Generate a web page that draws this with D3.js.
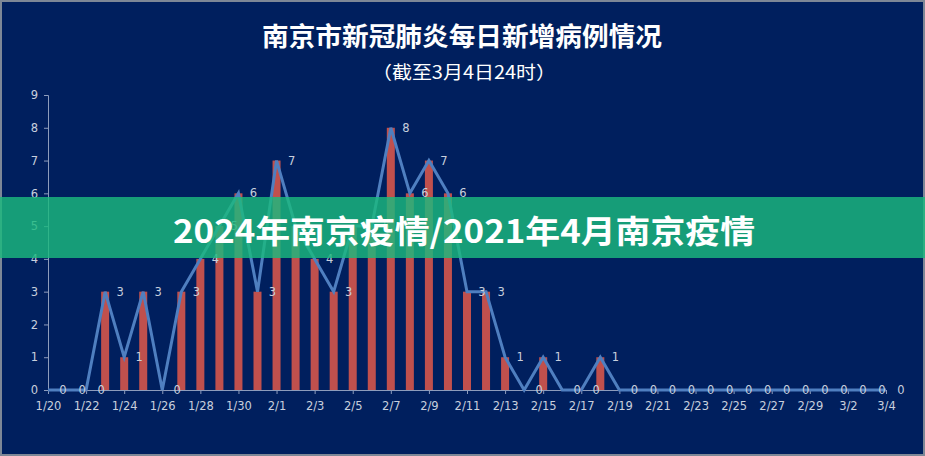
<!DOCTYPE html>
<html>
<head>
<meta charset="utf-8">
<script src="https://cdn.jsdelivr.net/npm/d3@7"></script>
<style>
  html, body { margin: 0; padding: 0; background: #7d8796; }
  svg { display: block; }
</style>
</head>
<body>
<svg id="chart" width="925" height="456"></svg>
<script>
const width = 925, height = 456

const dates = [
  "1/20","1/21","1/22","1/23","1/24","1/25","1/26","1/27","1/28","1/29","1/30","1/31",
  "2/1","2/2","2/3","2/4","2/5","2/6","2/7","2/8","2/9","2/10","2/11","2/12","2/13","2/14",
  "2/15","2/16","2/17","2/18","2/19","2/20","2/21","2/22","2/23","2/24","2/25","2/26","2/27",
  "2/28","2/29","3/1","3/2","3/3","3/4"
]
const cases = [
  0,0,0,3,1,3,0,3,4,5,6,3,
  7,5,4,3,5,5,8,6,7,6,3,3,1,0,
  1,0,0,1,0,0,0,0,0,0,0,0,0,
  0,0,0,0,0,0
]
const yTicks = [0,1,2,3,4,5,6,7,8,9]
const title = "南京市新冠肺炎每日新增病例情况"
const subtitle = "（截至3月4日24时）"
const banner = "2024年南京疫情/2021年4月南京疫情"

const svg = d3.select('#chart')

// fondo con borde gris
svg.append('rect')
    .attr('x', 2).attr('y', 2)
    .attr('width', width - 4).attr('height', height - 4)
    .attr('fill', '#001f5e')

const x = d3.scalePoint()
    .domain(dates)
    .range([48, 886])

const y = d3.scaleLinear()
    .domain([0, 9])
    .range([390, 95])

const axisColor = '#8d9cbc'
const textColor = '#c8cfdd'
const labelFont = '11.5px "DejaVu Sans", Verdana, sans-serif'

// eje y
const yAxis = svg.append('g')
    .attr('transform', 'translate(48,0)')
    .call(d3.axisLeft(y).tickValues(yTicks).tickSize(4).tickPadding(6).tickFormat(d3.format('d')))
yAxis.select('.domain').attr('stroke', axisColor)
yAxis.selectAll('.tick line').attr('stroke', axisColor)
yAxis.selectAll('.tick text')
    .attr('fill', textColor)
    .style('font', labelFont)

// eje x, una etiqueta cada dos dias
const xAxis = svg.append('g')
    .attr('transform', 'translate(0,390)')
    .call(d3.axisBottom(x).tickValues(dates.filter((d, i) => i % 2 === 0)).tickSize(4).tickSizeOuter(0).tickPadding(8))
xAxis.select('.domain').attr('stroke', axisColor)
xAxis.selectAll('.tick line').attr('stroke', axisColor)
xAxis.selectAll('.tick text')
    .attr('fill', textColor)
    .style('font', labelFont)

// barras
svg.append('g')
    .selectAll('rect')
    .data(dates)
    .join('rect')
    .attr('x', d => x(d) - 4)
    .attr('width', 8)
    .attr('y', (d, i) => y(cases[i]))
    .attr('height', (d, i) => y(0) - y(cases[i]))
    .attr('fill', '#c0504d')

// linea
const line = d3.line()
    .x(d => x(d))
    .y((d, i) => y(cases[i]))

svg.append('path')
    .datum(dates)
    .attr('d', line)
    .attr('fill', 'none')
    .attr('stroke', '#4f7fc0')
    .attr('stroke-width', 3)

// etiquetas de valor
svg.append('g')
    .selectAll('text')
    .data(dates)
    .join('text')
    .attr('x', d => x(d) + 15)
    .attr('y', (d, i) => y(cases[i]))
    .attr('dy', '0.35em')
    .attr('text-anchor', 'middle')
    .attr('fill', textColor)
    .style('font', labelFont)
    .text((d, i) => cases[i])

// titulos
svg.append('text')
    .attr('x', 462).attr('y', 46)
    .attr('text-anchor', 'middle')
    .attr('fill', '#ffffff')
    .attr('textLength', 400)
    .attr('lengthAdjust', 'spacingAndGlyphs')
    .style('font', 'bold 26px "Noto Sans CJK SC", sans-serif')
    .text(title)

svg.append('text')
    .attr('x', 464).attr('y', 79)
    .attr('text-anchor', 'middle')
    .attr('fill', '#ffffff')
    .attr('textLength', 184)
    .attr('lengthAdjust', 'spacingAndGlyphs')
    .style('font', '18px "Noto Sans CJK SC", sans-serif')
    .text(subtitle)

// franja verde superpuesta
svg.append('rect')
    .attr('x', 0).attr('y', 197)
    .attr('width', width).attr('height', 61)
    .attr('fill', 'rgb(27,186,126)')
    .attr('fill-opacity', 0.82)

svg.append('text')
    .attr('x', 464).attr('y', 243)
    .attr('text-anchor', 'middle')
    .attr('fill', '#ffffff')
    .attr('textLength', 582)
    .attr('lengthAdjust', 'spacingAndGlyphs')
    .style('font', 'bold 32px "Noto Sans CJK SC", sans-serif')
    .text(banner)
</script>
</body>
</html>
